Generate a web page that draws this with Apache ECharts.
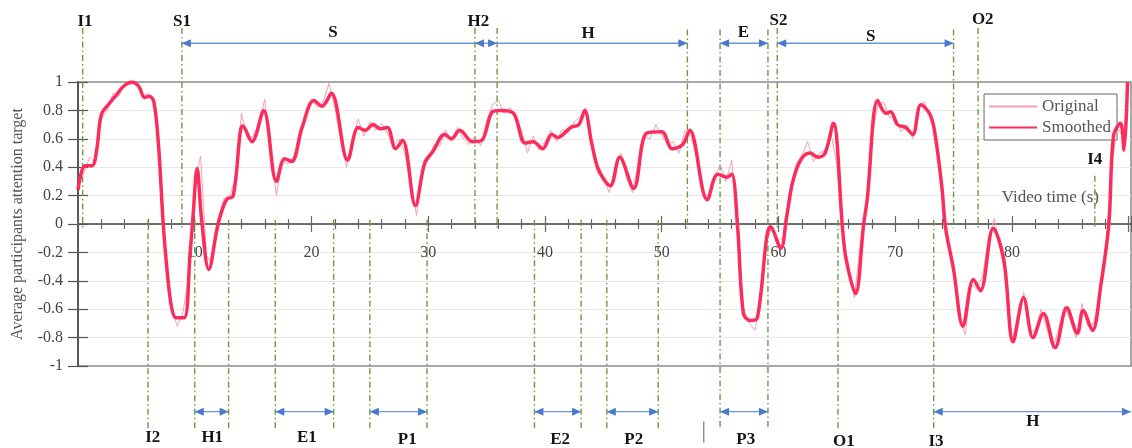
<!DOCTYPE html>
<html>
<head>
<meta charset="utf-8">
<script src="https://cdn.jsdelivr.net/npm/echarts@6/dist/echarts.min.js"></script>
<style>
html,body{margin:0;padding:0;background:#fff;}
#chart{width:1132px;height:448px;}
</style>
</head>
<body>
<div id="chart"></div>
<script>
// ---------- data ----------
const xTickLabels = [10, 20, 30, 40, 50, 60, 70, 80];
const yTickLabels = ['-1', '-0.8', '-0.6', '-0.4', '-0.2', '0', '0.2', '0.4', '0.6', '0.8', '1'];

// Smoothed attention curve: [time (s), value]
const smoothedPoints = [
  [0,0.24],[0.6,0.41],[1.2,0.41],[1.6,0.52],[2.0,0.77],[2.7,0.85],[3.3,0.91],[3.9,0.97],[4.6,1.0],[5.2,0.97],
  [5.7,0.89],[6.1,0.9],[6.5,0.86],[6.9,0.55],[7.3,0.0],[7.6,-0.3],[8.0,-0.58],[8.4,-0.66],[9.1,-0.66],[9.6,-0.21],
  [9.85,0.05],[10.2,0.39],[10.6,0.02],[11.2,-0.32],[12.0,0.0],[12.7,0.17],[13.3,0.2],[13.9,0.65],[14.1,0.69],[14.9,0.58],
  [15.9,0.8],[17.0,0.3],[17.7,0.46],[18.3,0.44],[19.2,0.68],[20.2,0.87],[20.9,0.83],[21.7,0.92],[23.1,0.45],[24.0,0.68],
  [24.6,0.66],[25.3,0.7],[25.9,0.67],[26.5,0.68],[27.2,0.53],[27.8,0.59],[28.9,0.13],[29.7,0.43],[30.4,0.51],[31.4,0.63],
  [32.0,0.6],[32.7,0.66],[33.8,0.58],[34.6,0.59],[35.5,0.79],[36.2,0.8],[37.3,0.78],[38.3,0.57],[39.0,0.58],[39.8,0.53],
  [40.6,0.63],[41.1,0.61],[42.2,0.68],[42.9,0.7],[43.4,0.8],[44.0,0.57],[44.6,0.38],[45.6,0.27],[46.4,0.47],[47.6,0.25],
  [48.7,0.64],[50.0,0.65],[50.9,0.53],[51.8,0.56],[52.4,0.66],[53.9,0.17],[54.8,0.35],[55.6,0.33],[56.0,0.35],[56.5,-0.02],
  [57.0,-0.63],[57.6,-0.68],[58.2,-0.66],[59.0,-0.09],[59.3,-0.02],[60.2,-0.17],[60.7,0.05],[61.2,0.29],[61.9,0.45],[62.7,0.5],
  [63.4,0.47],[64.0,0.5],[64.7,0.71],[65.5,-0.04],[65.8,-0.25],[66.6,-0.49],[67.3,0.0],[67.6,0.17],[68.5,0.87],[69.2,0.78],
  [69.6,0.79],[70.2,0.7],[70.9,0.68],[71.5,0.63],[72.2,0.84],[73.0,0.77],[73.4,0.64],[74.0,0.26],[74.3,-0.02],[75.0,-0.32],
  [75.8,-0.72],[76.7,-0.39],[77.3,-0.47],[78.4,-0.03],[79.3,-0.25],[80.1,-0.83],[81.0,-0.52],[81.8,-0.8],[82.7,-0.63],[83.7,-0.87],
  [84.7,-0.59],[85.6,-0.77],[86.1,-0.61],[86.9,-0.75],[87.6,-0.44],[88.3,0.0],[88.7,0.62],[89.3,0.71],[89.6,0.52],[89.9,1.0]
];

// Original (raw) curve sampled every 0.5 s starting at 0 s
const originalStep = 0.5;
const originalValues = [
  0.26,0.36,0.47,0.43,0.74,0.80,0.92,0.90,0.99,0.98,
  1.00,0.90,0.92,0.85,0.52,-0.22,-0.58,-0.72,-0.62,-0.35,
  0.28,0.48,-0.22,-0.28,0.03,0.18,0.20,0.32,0.78,0.60,
  0.62,0.70,0.88,0.52,0.20,0.45,0.42,0.48,0.66,0.74,
  0.88,0.82,0.86,0.99,0.82,0.60,0.40,0.58,0.74,0.62,
  0.72,0.66,0.71,0.64,0.55,0.60,0.50,0.28,0.06,0.38,
  0.45,0.56,0.55,0.66,0.58,0.68,0.60,0.56,0.62,0.55,
  0.72,0.84,0.87,0.78,0.82,0.74,0.66,0.50,0.62,0.52,
  0.58,0.66,0.58,0.67,0.64,0.72,0.75,0.82,0.55,0.36,
  0.33,0.22,0.40,0.50,0.32,0.22,0.44,0.62,0.60,0.70,
  0.62,0.56,0.58,0.50,0.66,0.62,0.48,0.22,0.20,0.32,
  0.42,0.30,0.45,0.00,-0.60,-0.70,-0.75,-0.52,-0.12,-0.02,
  -0.12,-0.08,0.15,0.42,0.48,0.58,0.44,0.50,0.52,0.64,
  0.42,-0.05,-0.30,-0.52,-0.15,0.12,0.60,0.84,0.86,0.75,
  0.76,0.65,0.70,0.60,0.82,0.86,0.74,0.62,0.30,-0.10,
  -0.28,-0.66,-0.78,-0.42,-0.46,-0.36,-0.10,0.04,-0.18,-0.38,
  -0.82,-0.66,-0.48,-0.74,-0.76,-0.60,-0.74,-0.88,-0.74,-0.58,
  -0.68,-0.80,-0.56,-0.72,-0.70,-0.52,-0.25,0.38,0.68,0.62,
  0.98
];

// Event guide lines: [time, top value, bottom value]
const guideLines = [
  [0.4, 1.38, -0.03], [8.9, 1.38, -0.03], [34.0, 1.38, -0.03], [35.9, 1.38, -0.03],
  [52.2, 1.37, -0.03], [55.0, 1.37, -1.44], [59.1, 1.37, -1.44], [59.9, 1.38, -0.03],
  [75.0, 1.37, -0.03], [77.1, 1.38, -0.03], [87.1, 0.34, -0.03],
  [6.0, 0.03, -1.44], [10.0, 0.03, -1.44], [12.9, 0.03, -1.44], [16.9, 0.03, -1.44],
  [21.9, 0.03, -1.44], [25.0, 0.03, -1.44], [29.9, 0.03, -1.44], [39.1, 0.03, -1.44],
  [43.1, 0.03, -1.44], [45.3, 0.03, -1.44], [49.7, 0.03, -1.44], [65.1, 0.03, -1.44],
  [73.3, 0.03, -1.44]
];

// Interval arrows: [start time, end time, level, head at start, head at end]
const intervalArrows = [
  [8.9, 34.0, 1.273, 1, 0], [34.0, 35.9, 1.273, 1, 1], [35.9, 52.2, 1.273, 0, 1],
  [55.0, 59.1, 1.273, 1, 1], [59.9, 75.0, 1.273, 1, 1],
  [10.0, 12.9, -1.322, 1, 1], [16.9, 21.9, -1.322, 1, 1], [25.0, 29.9, -1.322, 1, 1],
  [39.1, 43.1, -1.322, 1, 1], [45.3, 49.7, -1.322, 1, 1], [55.0, 59.1, -1.322, 1, 1],
  [73.3, 90.2, -1.322, 1, 1]
];

// Event labels: [text, time, level]
const eventLabels = [
  ['I1', 0.6, 1.425], ['S1', 8.9, 1.425], ['S', 21.85, 1.345], ['H2', 34.3, 1.425],
  ['H', 43.7, 1.34], ['E', 57.0, 1.345], ['S2', 60.0, 1.43], ['S', 67.9, 1.32],
  ['O2', 77.5, 1.44], ['I4', 87.1, 0.45],
  ['I2', 6.4, -1.507], ['H1', 11.5, -1.507], ['E1', 19.6, -1.507], ['P1', 28.2, -1.52],
  ['E2', 41.3, -1.52], ['P2', 47.6, -1.52], ['P3', 57.2, -1.52], ['H', 81.8, -1.395],
  ['O1', 65.6, -1.535], ['I3', 73.5, -1.535]
];

// stray gray mark below the axis: [time, top, bottom]
const strayMarks = [[53.6, -1.39, -1.54]];

// ---------- chart ----------
const serif = '"Liberation Serif", "DejaVu Serif", serif';
const originalData = originalValues.map((v, i) => [i * originalStep, v]);

const chart = echarts.init(document.getElementById('chart'), null, {renderer: 'canvas'});

function renderVLine(color, dash) {
  return function (params, api) {
    const p1 = api.coord([api.value(0), api.value(1)]);
    const p2 = api.coord([api.value(0), api.value(2)]);
    return {
      type: 'line',
      shape: {x1: p1[0], y1: p1[1], x2: p2[0], y2: p2[1]},
      style: {stroke: color, lineWidth: 1.4, lineDash: dash}
    };
  };
}

function renderArrow(params, api) {
  const a = api.coord([api.value(0), api.value(2)]);
  const b = api.coord([api.value(1), api.value(2)]);
  const color = '#4a78cc';
  const L = 9, W = 4;
  const children = [{
    type: 'line',
    shape: {x1: a[0], y1: a[1], x2: b[0], y2: b[1]},
    style: {stroke: '#6f93d6', lineWidth: 1.3}
  }];
  if (api.value(3)) {
    children.push({type: 'polygon', shape: {points: [[a[0], a[1]], [a[0] + L, a[1] - W], [a[0] + L, a[1] + W]]}, style: {fill: color}});
  }
  if (api.value(4)) {
    children.push({type: 'polygon', shape: {points: [[b[0], b[1]], [b[0] - L, b[1] - W], [b[0] - L, b[1] + W]]}, style: {fill: color}});
  }
  return {type: 'group', children: children};
}

function renderLabel(params, api) {
  const p = api.coord([api.value(0), api.value(1)]);
  return {
    type: 'text',
    x: p[0], y: p[1],
    style: {
      text: eventLabels[params.dataIndex][0],
      font: 'bold 17px ' + serif,
      fill: '#151515',
      align: 'center',
      verticalAlign: 'middle'
    }
  };
}

// x tick labels drawn just under the zero line (time axis crosses at 0)
const xLabelLevel = -0.205;
function renderXTickLabel(params, api) {
  const p = api.coord([api.value(0), xLabelLevel]);
  return {
    type: 'text',
    x: p[0], y: p[1],
    style: {
      text: String(xTickLabels[params.dataIndex]),
      font: '16px ' + serif,
      fill: '#444',
      align: 'center',
      verticalAlign: 'middle'
    }
  };
}

const xCommon = {
  type: 'value', min: 0, max: 90.2, interval: 10,
  splitLine: {show: false}
};
const yCommon = {
  type: 'value', min: -1, max: 1, interval: 0.2
};

const option = {
  animation: false,
  backgroundColor: '#fff',
  grid: {
    left: 78, right: 1, top: 82, bottom: 82,
    show: true, borderColor: '#8a8a8a', borderWidth: 1.5,
    containLabel: false
  },
  legend: {
    data: ['Original', 'Smoothed'],
    orient: 'vertical',
    right: 15, top: 94,
    backgroundColor: '#fff',
    borderColor: '#666', borderWidth: 1,
    padding: [4, 6, 4, 4],
    itemWidth: 48, itemHeight: 14, itemGap: 4,
    itemStyle: {opacity: 0},
    textStyle: {fontFamily: serif, fontSize: 17, color: '#555'},
    selectedMode: false
  },
  xAxis: [
    Object.assign({}, xCommon, {
      position: 'bottom',
      name: 'Video time (s)',
      nameLocation: 'end',
      nameGap: -32,
      nameTextStyle: {fontFamily: serif, fontSize: 17, color: '#555', align: 'right', verticalAlign: 'bottom', padding: [0, 0, 18, 0]},
      axisLine: {onZero: true, onZeroAxisIndex: 0, lineStyle: {color: '#666', width: 1.5}},
      axisTick: {show: true, inside: true, length: 8, lineStyle: {color: '#666', width: 1.2}},
      minorTick: {show: true, splitNumber: 5, length: 5, lineStyle: {color: '#666', width: 1.2}},
      axisLabel: {show: false}
    }),
    Object.assign({}, xCommon, {
      position: 'top',
      axisLine: {onZero: true, onZeroAxisIndex: 1, lineStyle: {color: '#666', width: 1.5}},
      axisTick: {show: true, inside: true, length: 8, lineStyle: {color: '#666', width: 1.2}},
      minorTick: {show: true, splitNumber: 5, length: 5, lineStyle: {color: '#666', width: 1.2}},
      axisLabel: {show: false}
    })
  ],
  yAxis: [
    Object.assign({}, yCommon, {
      position: 'left',
      name: 'Average participants attention target',
      nameLocation: 'middle',
      nameGap: 52,
      nameRotate: 90,
      nameTextStyle: {fontFamily: serif, fontSize: 16, color: '#555'},
      axisLine: {show: true, onZero: false, lineStyle: {color: '#555', width: 1.5}},
      axisTick: {show: true, inside: false, length: 10, lineStyle: {color: '#555', width: 1.2}},
      splitLine: {show: true, showMinLine: false, showMaxLine: false, lineStyle: {color: '#e8e8e8', width: 1}},
      axisLabel: {
        margin: 15, fontFamily: serif, fontSize: 16, color: '#444',
        formatter: function (v) {
          const s = String(Math.round(v * 10) / 10);
          return yTickLabels.indexOf(s) >= 0 ? s : '';
        }
      }
    }),
    Object.assign({}, yCommon, {
      position: 'left',
      axisLine: {show: true, onZero: false, lineStyle: {color: '#555', width: 1.5}},
      axisTick: {show: true, inside: true, length: 10, lineStyle: {color: '#555', width: 1.2}},
      splitLine: {show: false},
      axisLabel: {show: false}
    })
  ],
  series: [
    {
      name: 'xticklabels', type: 'custom', xAxisIndex: 0, yAxisIndex: 0, z: 0, silent: true,
      renderItem: renderXTickLabel,
      encode: {x: 0},
      data: xTickLabels.map(v => [v])
    },
    {
      name: 'guides', type: 'custom', xAxisIndex: 0, yAxisIndex: 0, z: 1, silent: true,
      renderItem: renderVLine('#6f9a3c', [6, 3, 1.5, 3]),
      encode: {x: 0, y: [1, 2]},
      data: guideLines
    },
    {
      name: 'stray', type: 'custom', xAxisIndex: 0, yAxisIndex: 0, z: 1, silent: true,
      renderItem: renderVLine('#8c8c8c', null),
      encode: {x: 0, y: [1, 2]},
      data: strayMarks
    },
    {
      name: 'arrows', type: 'custom', xAxisIndex: 0, yAxisIndex: 0, z: 2, silent: true,
      renderItem: renderArrow,
      encode: {x: [0, 1], y: 2},
      data: intervalArrows
    },
    {
      name: 'labels', type: 'custom', xAxisIndex: 0, yAxisIndex: 0, z: 2, silent: true,
      renderItem: renderLabel,
      encode: {x: 0, y: 1},
      data: eventLabels.map(d => [d[1], d[2]])
    },
    {
      name: 'Original', type: 'line', xAxisIndex: 0, yAxisIndex: 0, z: 3,
      symbol: 'none', showSymbol: false,
      lineStyle: {color: '#f4a0b2', width: 1},
      itemStyle: {color: '#f4a0b2'},
      data: originalData
    },
    {
      name: 'Smoothed', type: 'line', xAxisIndex: 0, yAxisIndex: 0, z: 4,
      symbol: 'none', showSymbol: false,
      smooth: 0.35,
      lineStyle: {color: '#fb2d5c', width: 3.5},
      itemStyle: {color: '#fb2d5c'},
      data: smoothedPoints
    }
  ]
};

chart.setOption(option);
</script>
</body>
</html>
